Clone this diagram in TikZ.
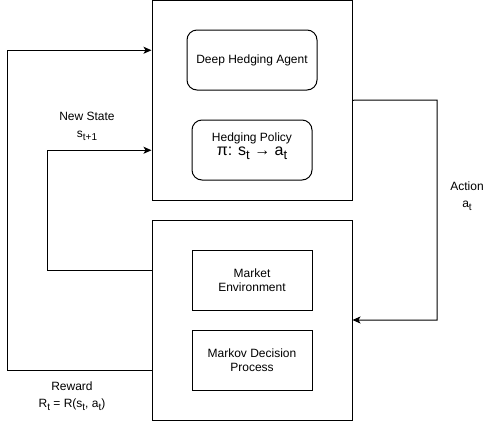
\documentclass[tikz,border=0pt]{standalone}
\usepackage{fontspec}
\setmainfont{Liberation Sans}
\usetikzlibrary{arrows.meta,calc}
\newcommand{\subA}[1]{\raisebox{-3pt}{\fontsize{10}{10}\selectfont #1}}
\newcommand{\subB}[1]{\raisebox{-4pt}{\fontsize{13}{13}\selectfont #1}}
\begin{document}
\begin{tikzpicture}[x=1pt,y=-1pt,
  box/.style={draw=black,line width=1pt,rectangle,inner sep=0pt},
  rbox/.style={box,rounded corners=10pt},
  txt/.style={align=center,font=\fontsize{12}{14.4}\selectfont,text=black},
  lbl/.style={align=center,font=\fontsize{12}{17}\selectfont,text=black,inner sep=0pt},
  conn/.style={draw=black,line width=1pt},
  arr/.style={conn,-{Stealth[length=8pt,width=7pt,inset=2pt]}}]
\useasboundingbox (0,0) rectangle (498,421);
\node[box,minimum width=200pt,minimum height=199.5pt] (agentbox) at (252,100.25) {};
\node[box,minimum width=200pt,minimum height=200pt] (envbox) at (252,320) {};
\node[rbox,minimum width=130pt,minimum height=60pt,txt] (agent) at (252,60) {Deep Hedging Agent};
\node[rbox,minimum width=120pt,minimum height=60pt,txt] (policy) at (252,150) {};
\node[txt,inner sep=0pt] (policytxt) at (252,146) {Hedging Policy\\[0pt]{\fontsize{16}{18}\selectfont π: s\subB{t} → a\subB{t}}};
\node[box,minimum width=120pt,minimum height=60pt,txt] (market) at (252,280) {Market\\Environment};
\node[box,minimum width=120pt,minimum height=60pt,txt] (mdp) at (252,360) {Markov Decision\\Process};
% connectors
\coordinate (rwc) at (7,370);
\coordinate (nsc) at (47,270);
\coordinate (acc) at (437,100);
\draw[arr] ($(envbox.west)+(0,50)$) -- (rwc) |- ($(agentbox.west)+(0,-50)$);
\draw[arr] ($(envbox.west)+(0,-50)$) -- (nsc) |- ($(agentbox.west)+(0,50)$);
\draw[arr] (agentbox.east) -- (acc) |- (envbox.east);
% labels
\node[lbl] (nslbl) at (87,126) {New State\\s\subA{t+1}};
\node[lbl] (aclbl) at (467,196) {Action\\a\subA{t}};
\node[lbl] (rwlbl) at (72,396) {Reward\\R\subA{t} = R(s\subA{t}, a\subA{t})};
\end{tikzpicture}
\end{document}
